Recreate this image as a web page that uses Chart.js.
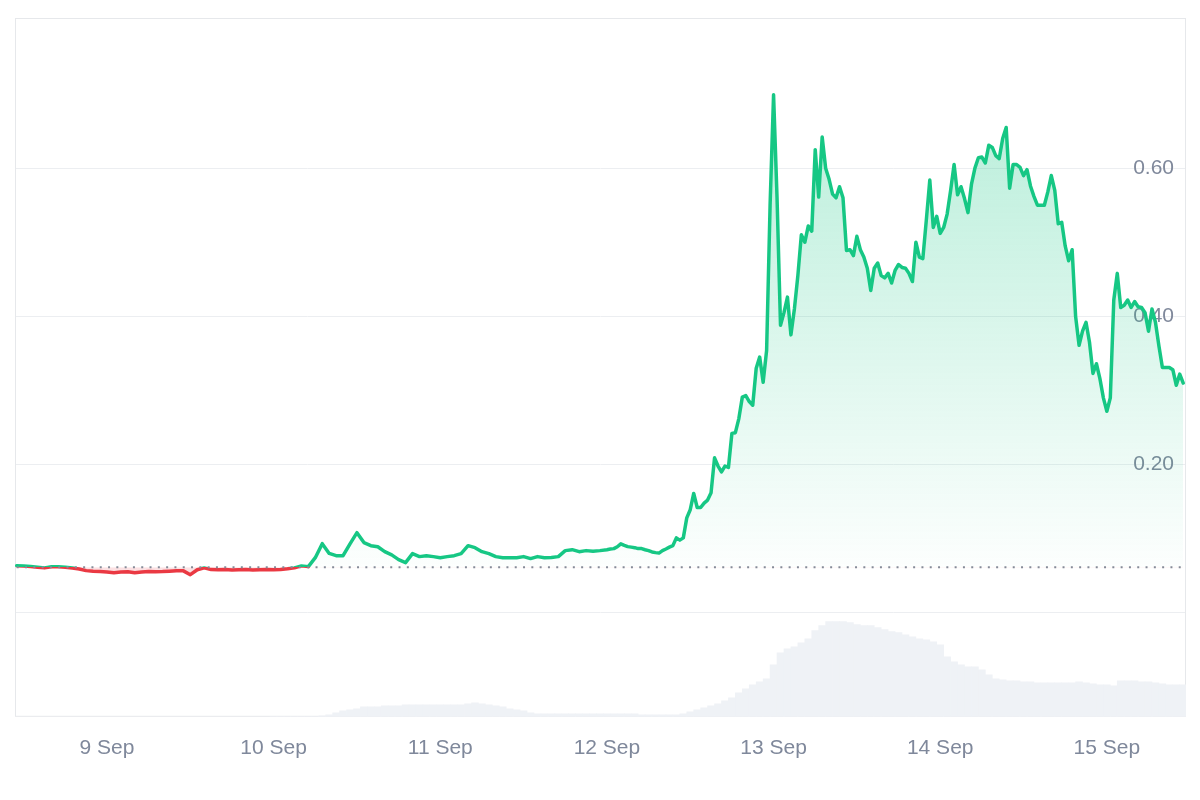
<!DOCTYPE html>
<html>
<head>
<meta charset="utf-8">
<title>Price chart</title>
<script src="https://cdn.jsdelivr.net/npm/chart.js@4.4.1/dist/chart.umd.min.js"></script>
<style>
  html, body { margin: 0; padding: 0; background: #fff; }
  #wrap { width: 1200px; height: 800px; }
</style>
</head>
<body>
<div id="wrap"><canvas id="price-chart" width="1200" height="800"></canvas></div>
<script>
// x values are hours counted from 9 Sep 00:00
const dayLabels = ['9 Sep', '10 Sep', '11 Sep', '12 Sep', '13 Sep', '14 Sep', '15 Sep'];
const priceTicks = [0, 0.2, 0.4, 0.6];
const baselinePrice = 0.0612;

// hourly prices (8 Sep starts at 11:00)
const price8Sep = [0.0635, 0.0632, 0.0625, 0.0615, 0.0605, 0.062, 0.062, 0.0615, 0.0602, 0.059, 0.0568, 0.056, 0.0556];
const price9Sep = [0.055, 0.054, 0.0548, 0.0553, 0.054, 0.0548, 0.0555, 0.0553, 0.0555, 0.056, 0.0566, 0.0565,
    0.0513, 0.058, 0.0605, 0.0582, 0.058, 0.0582, 0.0577, 0.058, 0.0582, 0.0577, 0.058, 0.0582];
const price10Sep = [0.058, 0.0582, 0.0592, 0.0605, 0.0632, 0.0622, 0.0743, 0.0932, 0.080, 0.077, 0.077, 0.093,
    0.108, 0.0946, 0.0905, 0.089, 0.0824, 0.078, 0.0716, 0.0676, 0.0797, 0.0757, 0.077, 0.0757];
const price11Sep = [0.0743, 0.0757, 0.077, 0.0797, 0.0905, 0.0878, 0.0824, 0.0797, 0.0757, 0.0743, 0.0743, 0.0743,
    0.0757, 0.073, 0.0757, 0.0743, 0.0745, 0.0757, 0.0838, 0.0851, 0.0824, 0.0838, 0.0831, 0.0838];

// half-hourly prices
const price12Sep = [0.0851, 0.086, 0.0865, 0.089, 0.093, 0.091, 0.0892, 0.0885, 0.0878, 0.0865, 0.0865, 0.085,
    0.0838, 0.082, 0.0811, 0.0805, 0.0838, 0.086, 0.0885, 0.0905, 0.101, 0.098, 0.101, 0.128,
    0.139, 0.161, 0.142, 0.142, 0.148, 0.152, 0.162, 0.209, 0.198, 0.19, 0.198, 0.196,
    0.242, 0.243, 0.262, 0.291, 0.293, 0.285, 0.28, 0.33, 0.345, 0.311, 0.354, 0.55];
const price13Sep = [0.699, 0.56, 0.388, 0.405, 0.426, 0.375, 0.41, 0.455, 0.51, 0.50, 0.522, 0.515,
    0.625, 0.561, 0.642, 0.60, 0.585, 0.565, 0.56, 0.575, 0.56, 0.489, 0.49, 0.482,
    0.508, 0.49, 0.48, 0.465, 0.435, 0.465, 0.472, 0.455, 0.452, 0.458, 0.445, 0.462,
    0.47, 0.466, 0.465, 0.458, 0.447, 0.50, 0.48, 0.478, 0.53, 0.584, 0.52, 0.535];
const price14Sep = [0.512, 0.52, 0.538, 0.57, 0.605, 0.564, 0.575, 0.559, 0.54, 0.578, 0.60, 0.614,
    0.615, 0.607, 0.631, 0.628, 0.617, 0.613, 0.64, 0.655, 0.573, 0.605, 0.605, 0.601,
    0.59, 0.598, 0.576, 0.562, 0.55, 0.55, 0.55, 0.568, 0.59, 0.57, 0.525, 0.527,
    0.495, 0.475, 0.49, 0.40, 0.361, 0.38, 0.392, 0.365, 0.323, 0.336, 0.316, 0.29];
const price15Sep = [0.272, 0.29, 0.422, 0.458, 0.412, 0.415, 0.422, 0.412, 0.42, 0.413, 0.412, 0.405,
    0.38, 0.41, 0.392, 0.36, 0.331, 0.331, 0.331, 0.328, 0.307, 0.322, 0.31];

// hourly volume (relative, nothing traded before 10 Sep)
const volume10Sep = [0, 0, 0, 0, 0, 0, 0, 1, 2, 4, 6, 7, 8, 10, 10, 10, 11, 11, 11, 12, 12, 12, 12, 12];
const volume11Sep = [12, 12, 12, 12, 13, 14, 13, 12, 11, 10, 8, 7, 6, 4, 3, 3, 3, 3, 3, 3, 3, 3, 3, 3];
const volume12Sep = [3, 3, 3, 3, 3, 2, 2, 2, 2, 2, 2, 3, 5, 7, 9, 11, 13, 16, 19, 24, 28, 32, 35, 38];
const volume13Sep = [52, 64, 68, 70, 74, 78, 86, 91, 95, 95, 95, 94, 92, 91, 91, 89, 87, 85, 84, 82, 80, 78, 77, 75];
const volume14Sep = [72, 60, 55, 52, 50, 50, 47, 42, 38, 37, 36, 36, 35, 35, 34, 34, 34, 34, 34, 34, 35, 34, 33, 32];
const volume15Sep = [32, 31, 36, 36, 36, 35, 35, 34, 33, 32, 32, 32];

const GREEN = '#16c784';
const RED = '#ea3943';
const TEXT_GREY = '#7f889b';
const GRID = '#eceef1';
const LABEL_FONT = { family: 'Liberation Sans, Arial, sans-serif', size: 21 };

function toPoints(dayIndex, startHour, step, values) {
    return values.map((v, i) => ({ x: dayIndex * 24 + startHour + i * step, y: v }));
}

const priceData = [
    ...toPoints(-1, 11, 1, price8Sep),
    ...toPoints(0, 0, 1, price9Sep),
    ...toPoints(1, 0, 1, price10Sep),
    ...toPoints(2, 0, 1, price11Sep),
    ...toPoints(3, 0, 0.5, price12Sep),
    ...toPoints(4, 0, 0.5, price13Sep),
    ...toPoints(5, 0, 0.5, price14Sep),
    ...toPoints(6, 0, 0.5, price15Sep)
];

const volumeData = [
    ...toPoints(1, 0, 1, volume10Sep),
    ...toPoints(2, 0, 1, volume11Sep),
    ...toPoints(3, 0, 1, volume12Sep),
    ...toPoints(4, 0, 1, volume13Sep),
    ...toPoints(5, 0, 1, volume14Sep),
    ...toPoints(6, 0, 1, volume15Sep)
];

const baselineData = [
    { x: priceData[0].x, y: baselinePrice },
    { x: priceData[priceData.length - 1].x, y: baselinePrice }
];

// light frame around the plot
const framePlugin = {
    id: 'frame',
    beforeDatasetsDraw(chart) {
        const { ctx, chartArea } = chart;
        ctx.save();
        ctx.strokeStyle = '#e6e8eb';
        ctx.lineWidth = 1;
        ctx.strokeRect(chartArea.left + 0.5, chartArea.top + 0.5,
            chartArea.right - chartArea.left - 1, chartArea.bottom - chartArea.top - 1);
        ctx.restore();
    }
};

const chart = new Chart(document.getElementById('price-chart'), {
    data: {
        datasets: [
            {
                type: 'line',
                data: baselineData,
                yAxisID: 'y',
                borderColor: '#858b98',
                borderWidth: 2,
                borderDash: [2, 6.3],
                pointRadius: 0,
                fill: false,
                order: 0
            },
            {
                type: 'line',
                data: priceData,
                yAxisID: 'y',
                borderColor: GREEN,
                borderWidth: 3.5,
                borderJoinStyle: 'round',
                borderCapStyle: 'round',
                pointRadius: 0,
                tension: 0,
                fill: {
                    target: { value: baselinePrice },
                    above: 'rgba(22, 199, 132, 0.2)',
                    below: 'rgba(234, 57, 67, 0.15)'
                },
                order: 1
            },
            {
                type: 'bar',
                data: volumeData,
                yAxisID: 'yVolume',
                backgroundColor: '#eff2f6',
                borderWidth: 0,
                barPercentage: 1,
                categoryPercentage: 1,
                order: 2
            }
        ]
    },
    options: {
        responsive: false,
        animation: false,
        devicePixelRatio: 1,
        layout: { padding: { left: 15, top: 18, right: 14, bottom: 20 } },
        plugins: {
            legend: { display: false },
            tooltip: { enabled: false }
        },
        scales: {
            x: {
                type: 'linear',
                offset: false,
                min: -13.25,
                max: 155.4,
                grid: { display: false, drawTicks: false, offset: false },
                border: { display: false },
                afterBuildTicks: (scale) => {
                    scale.ticks = dayLabels.map((_, i) => ({ value: i * 24 }));
                },
                ticks: {
                    padding: 19,
                    color: TEXT_GREY,
                    font: LABEL_FONT,
                    maxRotation: 0,
                    autoSkip: false,
                    callback: (value) => dayLabels[value / 24] || ''
                }
            },
            y: {
                type: 'linear',
                position: 'right',
                min: -0.1405,
                max: 0.8027,
                border: { display: false },
                grid: { color: GRID, drawTicks: true, tickLength: 24, tickColor: 'transparent' },
                afterBuildTicks: (scale) => {
                    scale.ticks = priceTicks.map(v => ({ value: v }));
                },
                ticks: {
                    mirror: true,
                    padding: -12,
                    color: TEXT_GREY,
                    font: LABEL_FONT,
                    callback: (value) => value === 0 ? '' : value.toFixed(2)
                }
            },
            yVolume: {
                type: 'linear',
                display: false,
                min: 0,
                max: 698
            }
        }
    },
    plugins: [framePlugin]
});

// gradients depend on the laid-out scales, so set them after the first render
function applyGradients(chart) {
    const { ctx, chartArea, scales } = chart;
    const priceSet = chart.data.datasets[1];
    const yBase = scales.y.getPixelForValue(baselinePrice);
    const yTop = scales.y.getPixelForValue(Math.max(...priceData.map(p => p.y)));

    const stroke = ctx.createLinearGradient(0, chartArea.top, 0, chartArea.bottom);
    const cut = (yBase - chartArea.top) / (chartArea.bottom - chartArea.top);
    stroke.addColorStop(0, GREEN);
    stroke.addColorStop(cut, GREEN);
    stroke.addColorStop(cut, RED);
    stroke.addColorStop(1, RED);
    priceSet.borderColor = stroke;

    const area = ctx.createLinearGradient(0, yTop, 0, yBase);
    area.addColorStop(0, 'rgba(22, 199, 132, 0.30)');
    area.addColorStop(1, 'rgba(22, 199, 132, 0.01)');
    priceSet.fill.above = area;
    chart.update('none');
}

applyGradients(chart);
</script>
</body>
</html>
